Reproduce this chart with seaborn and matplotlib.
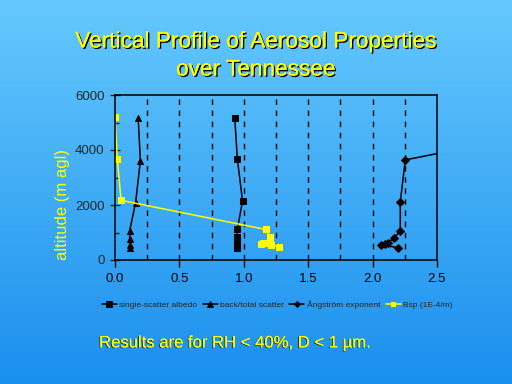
import numpy as np
import pandas as pd
import matplotlib
matplotlib.use("Agg")
import matplotlib.pyplot as plt
import matplotlib.patheffects as pe
import seaborn as sns

# single-scatter albedo
ssa_x = [0.93, 0.95, 0.99, 0.95, 0.945, 0.945, 0.945, 0.945]
ssa_y = [5150, 3670, 2150, 1110, 850, 700, 560, 430]
# back/total scatter
bts_x = [0.18, 0.197, 0.16, 0.114, 0.114, 0.114, 0.114]
bts_y = [5150, 3610, 2090, 1070, 760, 550, 420]
# Angstrom exponent
ang_x = [2.20, 2.065, 2.096, 2.12, 2.166, 2.215, 2.215, 2.254, 2.75]
ang_y = [450, 545, 580, 630, 790, 1070, 2120, 3640, 4100]
# Bsp (1E-4/m)
bsp_x = [0.0, 0.018, 0.047, 1.17, 1.20, 1.20, 1.18, 1.15, 1.13, 1.21, 1.27]
bsp_y = [5190, 3670, 2170, 1110, 830, 680, 630, 610, 590, 560, 480]

series = [
    ("single-scatter albedo", ssa_x, ssa_y, "black", "s", 5),
    ("back/total scatter", bts_x, bts_y, "black", "^", 5),
    ("\u00c5ngstr\u00f6m exponent", ang_x, ang_y, "black", "D", 4),
    ("Bsp (1E-4/m)", bsp_x, bsp_y, "yellow", "s", 4.5),
]

sns.set_style("ticks")
plt.rcParams['font.family'] = ['Liberation Sans', 'DejaVu Sans']

fig = plt.figure(figsize=(5.12, 3.84), dpi=100)

# gradient background
bg = fig.add_axes([0, 0, 1, 1], zorder=-10)
grad = np.linspace(0, 1, 256).reshape(-1, 1)
cmap = matplotlib.colors.LinearSegmentedColormap.from_list("bg", ["#66C9FE", "#1A8FEE"])
bg.imshow(grad, aspect="auto", cmap=cmap, extent=[0, 1, 0, 1])
bg.axis("off")

ax = fig.add_axes([115 / 512, 1 - 260 / 384, 322 / 512, 165 / 384])
ax.set_facecolor("none")

for name, xs, ys, col, mk, ms in series:
    df = pd.DataFrame({"x": xs, "y": ys})
    sns.lineplot(data=df, x="x", y="y", sort=False, estimator=None, ax=ax,
                 color=col, marker=mk, markersize=ms, markeredgecolor=col,
                 linewidth=1.1, label=name)

ax.set_xlim(0, 2.5)
ax.set_ylim(0, 6000)
ax.set_xticks(np.arange(0, 2.51, 0.5))
ax.set_xticklabels([f"{v:.1f}" for v in np.arange(0, 2.51, 0.5)])
ax.set_yticks([0, 2000, 4000, 6000])
ax.set_yticks([1000, 3000, 5000], minor=True)
for gx in np.arange(0.25, 2.4, 0.25):
    ax.axvline(gx, color="black", linestyle=(0, (4, 4)), linewidth=1, zorder=0)
ax.tick_params(axis="x", direction="out", length=5, width=1, labelsize=9.5, colors="black", pad=4)
ax.tick_params(axis="y", which="major", direction="inout", length=7, width=1, labelsize=9.5, pad=4)
ax.tick_params(axis="y", which="minor", direction="in", length=3, width=1)
for s in ax.spines.values():
    s.set_color("black")
    s.set_linewidth(1.1)
    s.set_visible(True)
ax.set_xlabel("")
ax.set_ylabel("")

leg = ax.legend(loc="center", bbox_to_anchor=(277 / 512, 1 - 305 / 384),
                bbox_transform=fig.transFigure, ncol=4, frameon=False,
                fontsize=6, handlelength=1.8, handletextpad=0.25,
                columnspacing=0.7, markerscale=0.75)

fig.text(62 / 512, 1 - 204 / 384, "altitude (m agl)", rotation=90, color="yellow",
         fontsize=12, ha="center", va="center")

shadow = [pe.withSimplePatchShadow(offset=(1, -1), shadow_rgbFace="black", alpha=1), pe.Normal()]
fig.text(256 / 512, 1 - 41 / 384, "Vertical Profile of Aerosol Properties", color="yellow",
         fontsize=16.3, ha="center", va="center", path_effects=shadow)
fig.text(256 / 512, 1 - 69 / 384, "over Tennessee", color="yellow",
         fontsize=16.3, ha="center", va="center", path_effects=shadow)
fig.text(99 / 512, 1 - 343 / 384, "Results are for RH < 40%, D < 1 \u00b5m.", color="yellow",
         fontsize=12, ha="left", va="center",
         path_effects=[pe.withSimplePatchShadow(offset=(-0.6, -0.4), shadow_rgbFace="black", alpha=0.8), pe.Normal()])

fig.savefig("out.png", dpi=100)
